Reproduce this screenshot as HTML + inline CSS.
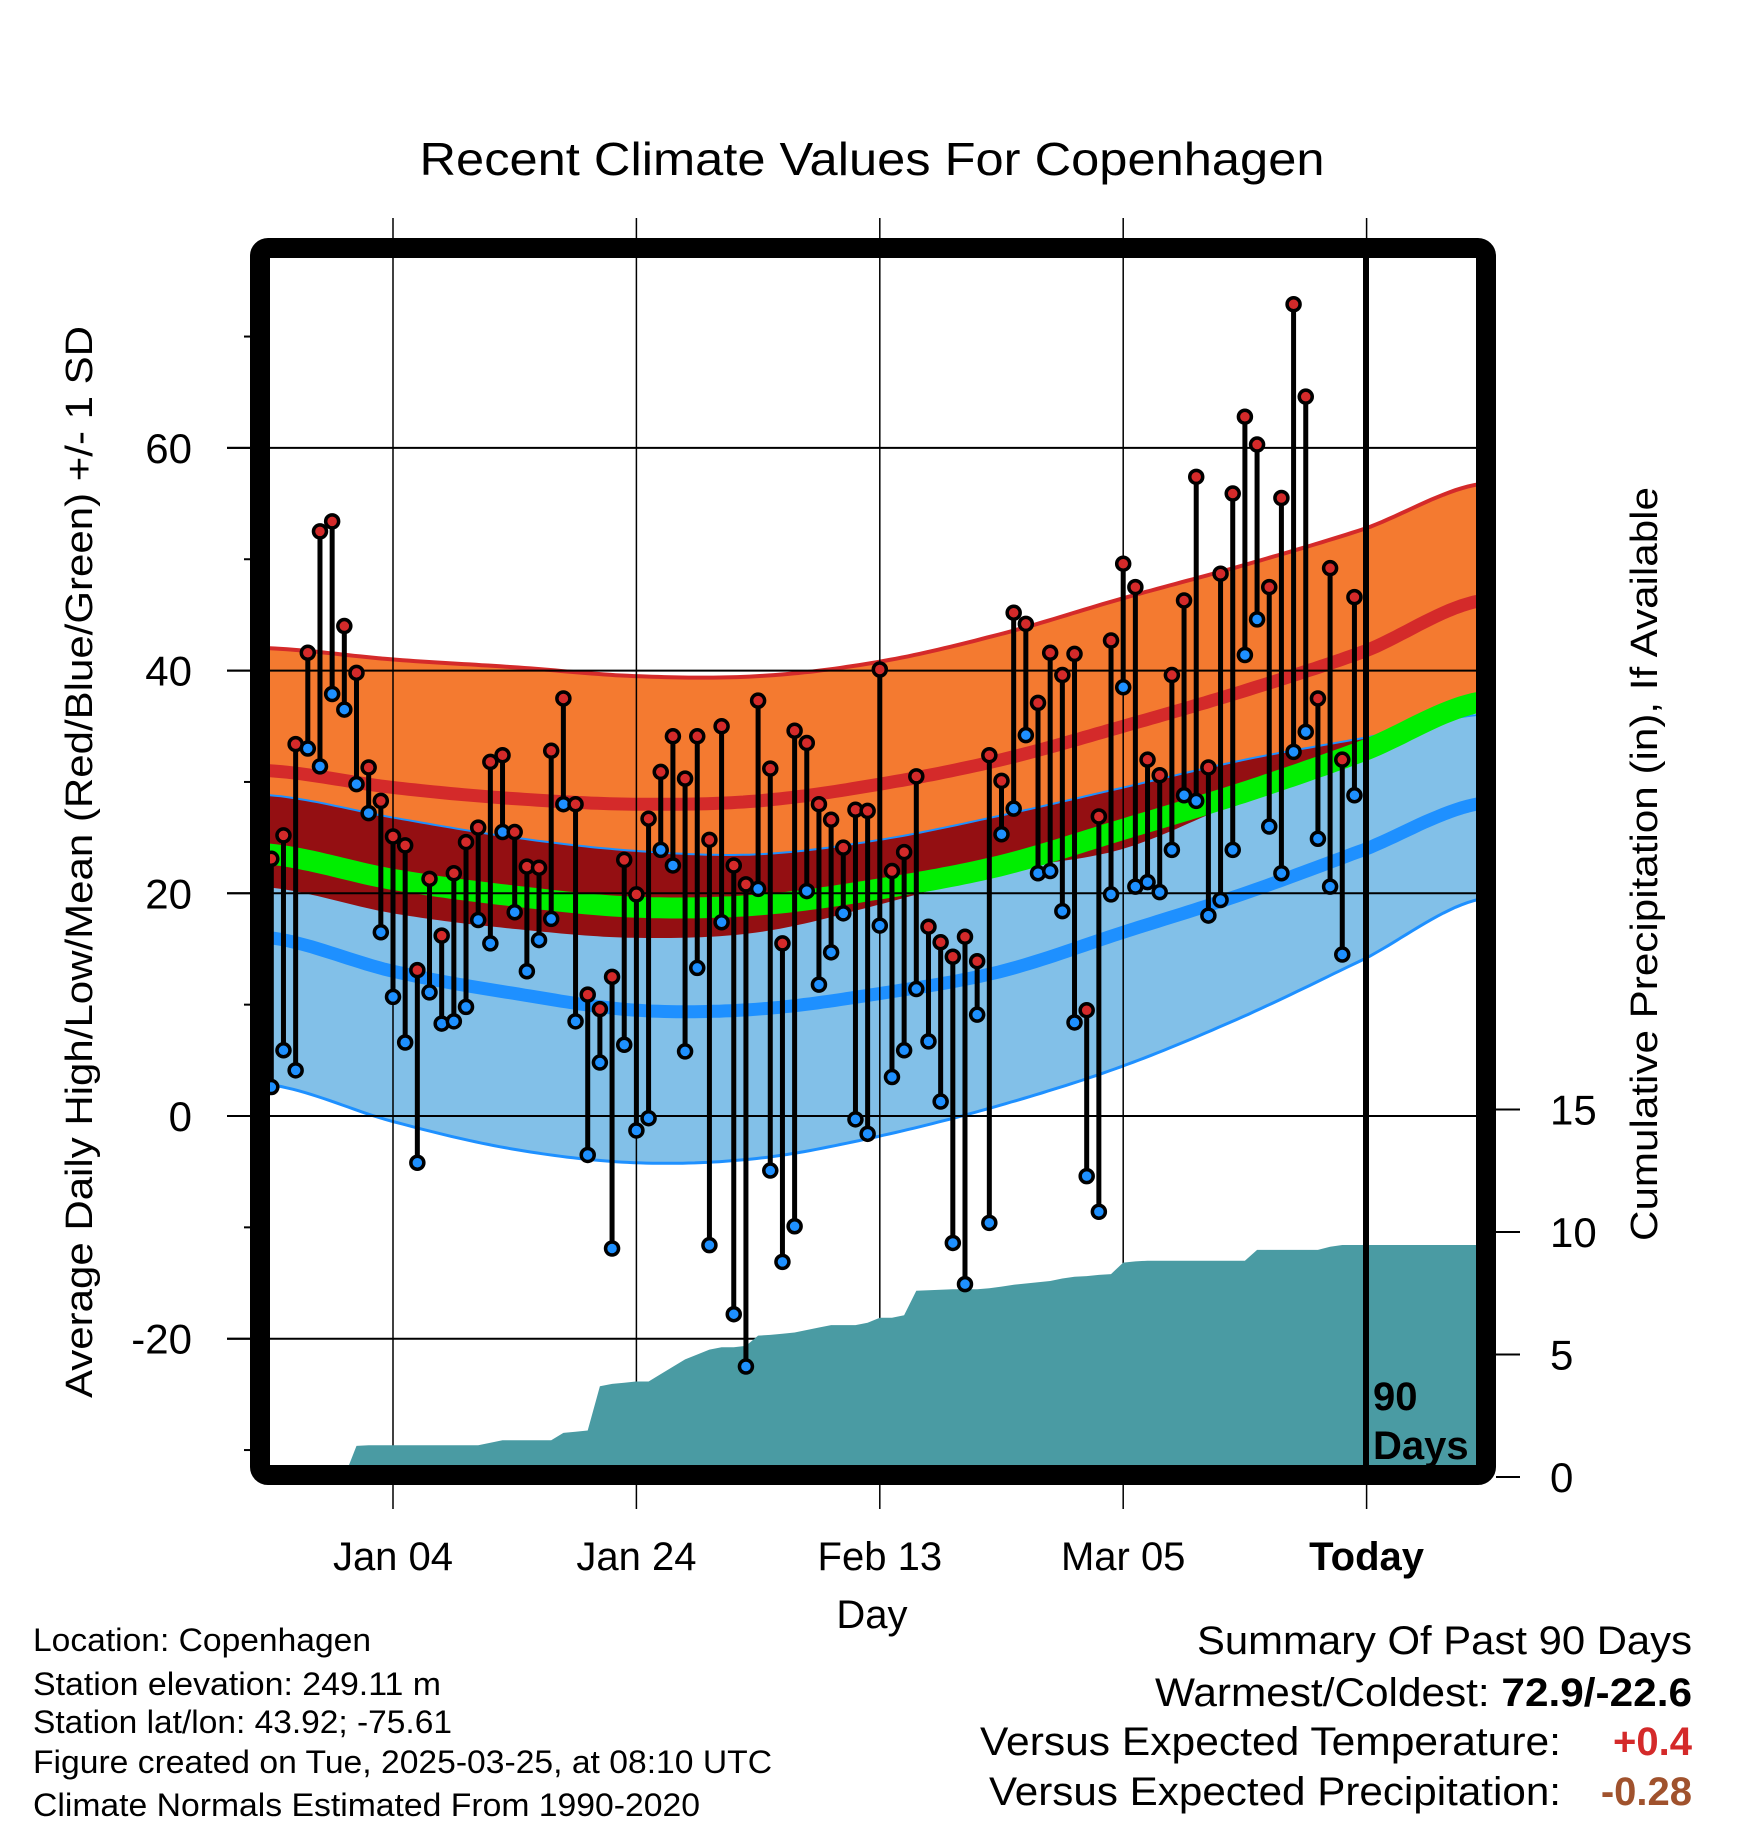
<!DOCTYPE html>
<html><head><meta charset="utf-8"><style>
html,body{margin:0;padding:0;background:#fff;}
svg{display:block;font-family:"Liberation Sans",Arial,sans-serif;}
</style></head><body>
<svg id="chart" width="1748" height="1828" viewBox="0 0 1748 1828" xmlns="http://www.w3.org/2000/svg">
<defs><clipPath id="plotclip"><rect x="270" y="258" width="1206" height="1210"/></clipPath></defs>
<rect x="0" y="0" width="1748" height="1828" fill="#fff"/>
<text x="872" y="175" font-size="46" text-anchor="middle" textLength="905" lengthAdjust="spacingAndGlyphs">Recent Climate Values For Copenhagen</text>
<g id="bands" clip-path="url(#plotclip)"></g>
<g id="grid"></g>
<g id="precip" clip-path="url(#plotclip)"></g>
<g id="marks" clip-path="url(#plotclip)"></g>
<g id="axes"></g>
<line x1="1366" y1="240" x2="1366" y2="1470" stroke="#000" stroke-width="6"/>
<text x="1373" y="1410" font-size="40" font-weight="bold">90</text>
<text x="1373" y="1459" font-size="40" font-weight="bold">Days</text>
<rect x="260" y="248" width="1226" height="1227" rx="8" fill="none" stroke="#000" stroke-width="20"/>
<text transform="translate(92,862) rotate(-90)" font-size="38" text-anchor="middle" textLength="1072" lengthAdjust="spacingAndGlyphs">Average Daily High/Low/Mean (Red/Blue/Green) +/- 1 SD</text>
<text transform="translate(1657,864) rotate(-90)" font-size="38" text-anchor="middle" textLength="754" lengthAdjust="spacingAndGlyphs">Cumulative Precipitation (in), If Available</text>
<text x="872" y="1628" font-size="40" text-anchor="middle">Day</text>
<g font-size="32">
<text x="33" y="1651" textLength="338" lengthAdjust="spacingAndGlyphs">Location: Copenhagen</text>
<text x="33" y="1695" textLength="408" lengthAdjust="spacingAndGlyphs">Station elevation: 249.11 m</text>
<text x="33" y="1733" textLength="419" lengthAdjust="spacingAndGlyphs">Station lat/lon: 43.92; -75.61</text>
<text x="33" y="1773" textLength="739" lengthAdjust="spacingAndGlyphs">Figure created on Tue, 2025-03-25, at 08:10 UTC</text>
<text x="33" y="1816" textLength="667" lengthAdjust="spacingAndGlyphs">Climate Normals Estimated From 1990-2020</text>
</g>
<g font-size="40">
<text x="1197" y="1654" textLength="495" lengthAdjust="spacingAndGlyphs">Summary Of Past 90 Days</text>
<text x="1155" y="1706" textLength="537" lengthAdjust="spacingAndGlyphs">Warmest/Coldest: <tspan font-weight="bold">72.9/-22.6</tspan></text>
<text x="980" y="1755" textLength="581" lengthAdjust="spacingAndGlyphs">Versus Expected Temperature:</text>
<text x="1692" y="1755" text-anchor="end" font-weight="bold" fill="#d42a2a">+0.4</text>
<text x="989" y="1805" textLength="572" lengthAdjust="spacingAndGlyphs">Versus Expected Precipitation:</text>
<text x="1692" y="1805" text-anchor="end" font-weight="bold" fill="#a0522d">-0.28</text>
</g>
</svg>
<script>
// ---- data ----
const highs = [23.1,25.2,33.4,41.6,52.5,53.4,44.0,39.8,31.3,28.3,25.1,24.3,13.1,21.3,16.2,21.8,24.6,25.9,31.8,32.4,25.5,22.4,22.3,32.8,37.5,28.0,10.9,9.6,12.5,23.0,19.9,26.7,30.9,34.1,30.3,34.1,24.8,35.0,22.5,20.8,37.3,31.2,15.5,34.6,33.5,28.0,26.6,24.1,27.5,27.4,40.1,22.0,23.7,30.5,17.0,15.6,14.3,16.1,13.9,32.4,30.1,45.2,44.2,37.1,41.6,39.6,41.5,9.5,26.9,42.7,49.6,47.5,32.0,30.6,39.6,46.3,57.4,31.3,48.7,55.9,62.8,60.3,47.5,55.5,72.9,64.6,37.5,49.2,32.0,46.6];
const lows = [2.6,5.9,4.1,33.0,31.4,37.9,36.5,29.8,27.2,16.5,10.7,6.6,-4.2,11.1,8.3,8.5,9.8,17.6,15.5,25.5,18.3,13.0,15.8,17.7,28.0,8.5,-3.5,4.8,-11.9,6.4,-1.3,-0.2,23.9,22.5,5.8,13.3,-11.6,17.4,-17.8,-22.5,20.4,-4.9,-13.1,-9.9,20.2,11.8,14.7,18.2,-0.3,-1.6,17.1,3.5,5.9,11.4,6.7,1.3,-11.4,-15.1,9.1,-9.6,25.3,27.6,34.2,21.8,22.0,18.4,8.4,-5.4,-8.6,19.9,38.5,20.6,21.0,20.1,23.9,28.8,28.3,18.0,19.4,23.9,41.4,44.6,26.0,21.8,32.7,34.5,24.9,20.6,14.5,28.8];
const precip = [0,0,0,0,0,0,0,1.27,1.3,1.3,1.3,1.3,1.3,1.3,1.3,1.3,1.3,1.3,1.4,1.5,1.5,1.5,1.5,1.5,1.8,1.85,1.9,3.7,3.8,3.85,3.9,3.9,4.2,4.5,4.8,5.0,5.2,5.3,5.3,5.35,5.77,5.8,5.85,5.9,6.0,6.1,6.2,6.2,6.2,6.3,6.5,6.5,6.6,7.6,7.62,7.64,7.66,7.66,7.66,7.7,7.77,7.85,7.9,7.95,8.0,8.1,8.17,8.2,8.25,8.28,8.75,8.8,8.83,8.83,8.83,8.83,8.83,8.83,8.83,8.83,8.83,9.27,9.27,9.27,9.27,9.27,9.27,9.4,9.47,9.47];
const firstDay = -10;
const normDays = [-10,0,10,20,30,40,50,60,70,80,89];
const highTop = [42.0,41.0,40.3,39.5,39.5,40.8,43.3,46.5,49.5,52.8,56.7];
const meanHigh = [31.0,29.5,28.5,28.0,28.3,29.8,32.0,35.0,38.2,41.8,46.2];
const highBot = [20.5,18.2,16.8,16.0,16.5,19.0,22.0,24.0,28.5,33.0,38.0];
const meanLow = [16.0,13.0,11.0,9.5,9.6,11.0,13.0,16.5,20.0,24.0,28.0];
const lowTop = [28.8,26.8,25.0,23.8,23.5,24.8,27.0,29.5,32.0,34.0,36.0];
const lowBot = [2.8,-0.5,-3.0,-4.2,-3.8,-1.8,1.0,4.5,9.0,14.2,19.4];
const yTicks = [-20,0,20,40,60];
const yMinor = [-30,-10,10,30,50,70];
const pTicks = [0,5,10,15];
const xTickDays = [0,20,40,60,80];
const xTickLabels = ['Jan 04','Jan 24','Feb 13','Mar 05','Today'];

// ---- scales ----
const X = d => 393 + 12.17*d;
const Y = v => 1116 - 11.135*v;
const P = v => 1477 - 24.5*v;
const NS = 'http://www.w3.org/2000/svg';
function mk(tag, attrs, parent){const e=document.createElementNS(NS,tag);for(const k in attrs)e.setAttribute(k,attrs[k]);parent.appendChild(e);return e;}
function interp(arr, d){
  let i=0; while(i<normDays.length-2 && d>normDays[i+1]) i++;
  const t=(d-normDays[i])/(normDays[i+1]-normDays[i]);
  const p0=arr[Math.max(i-1,0)],p1=arr[i],p2=arr[i+1],p3=arr[Math.min(i+2,arr.length-1)];
  const t2=t*t,t3=t2*t;
  return 0.5*((2*p1)+(-p0+p2)*t+(2*p0-5*p1+4*p2-p3)*t2+(-p0+3*p1-3*p2+p3)*t3);
}
const ds=[]; for(let d=-10.2; d<=89.3; d+=0.5) ds.push(d);
const hBot = d => interp(highBot,d);
function band(fTop,fBot){let s='';ds.forEach((d,i)=>{s+=(i?'L':'M')+X(d).toFixed(1)+','+Y(fTop(d)).toFixed(1);});
  for(let i=ds.length-1;i>=0;i--){s+='L'+X(ds[i]).toFixed(1)+','+Y(fBot(ds[i])).toFixed(1);} return s+'Z';}
function line(f){let s='';ds.forEach((d,i)=>{s+=(i?'L':'M')+X(d).toFixed(1)+','+Y(f(d)).toFixed(1);});return s;}

const bands=document.getElementById('bands');
let e;
e=mk('path',{d:band(d=>interp(highTop,d),hBot),fill:'#f47a30'},bands);


e=mk('path',{d:band(d=>interp(lowTop,d),d=>interp(lowBot,d)),fill:'#82c0e8'},bands);


e=mk('path',{d:band(d=>Math.min(interp(lowTop,d),interp(highTop,d)),d=>Math.min(interp(lowTop,d),Math.max(hBot(d),interp(lowBot,d)))),fill:'#940f12'},bands);


e=mk('path',{d:line(d=>interp(highTop,d)),fill:'none',stroke:'#d42a2a','stroke-width':4},bands);


e=mk('path',{d:line(d=>interp(lowTop,d)),fill:'none',stroke:'#1e90ff','stroke-width':2},bands);


e=mk('path',{d:line(d=>interp(lowBot,d)),fill:'none',stroke:'#1e90ff','stroke-width':3},bands);


e=mk('path',{d:line(d=>interp(meanHigh,d)),fill:'none',stroke:'#d42a2a','stroke-width':13},bands);


e=mk('path',{d:line(d=>interp(meanLow,d)),fill:'none',stroke:'#1e90ff','stroke-width':13},bands);


e=mk('path',{d:line(d=>(interp(meanHigh,d)+interp(meanLow,d))/2),fill:'none',stroke:'#00ee00','stroke-width':21},bands);



// grid
const grid=document.getElementById('grid');
yTicks.forEach(v=>{e=mk('line',{x1:227,x2:1476,y1:Y(v),y2:Y(v),stroke:'#000','stroke-width':2},grid);

});
xTickDays.forEach(d=>{e=mk('line',{x1:X(d),x2:X(d),y1:218,y2:1509,stroke:'#000','stroke-width':1.5},grid);

});

// precip
const pg=document.getElementById('precip');
let ps='M'+X(firstDay)+','+P(0);
precip.forEach((v,i)=>{ps+='L'+X(firstDay+i).toFixed(1)+','+P(v).toFixed(1);});
ps+='L1480,'+P(precip[precip.length-1]).toFixed(1)+'L1480,'+P(0)+'Z';
e=mk('path',{d:ps,fill:'#4a9ba3'},pg);



// marks
const mg=document.getElementById('marks');
highs.forEach((h,i)=>{
  const x=X(firstDay+i), l=lows[i];
  e=mk('line',{x1:x,x2:x,y1:Y(h),y2:Y(l),stroke:'#000','stroke-width':5},mg);
  
  
  e=mk('circle',{cx:x,cy:Y(h),r:6.5,fill:'#d42a2a',stroke:'#000','stroke-width':3.5},mg);
  
  
  e=mk('circle',{cx:x,cy:Y(l),r:6.5,fill:'#1e90ff',stroke:'#000','stroke-width':3.5},mg);
  
  
});

// axes
const ax=document.getElementById('axes');
yTicks.forEach(v=>{
  e=mk('line',{x1:227,x2:254,y1:Y(v),y2:Y(v),stroke:'#000','stroke-width':2},ax);
  
  
  e=mk('text',{x:192,y:Y(v)+15,'font-size':42,'text-anchor':'end'},ax);
  e.textContent=v;
  
  
});
yMinor.forEach(v=>{
  e=mk('line',{x1:244,x2:254,y1:Y(v),y2:Y(v),stroke:'#000','stroke-width':2},ax);
  
  
});
pTicks.forEach(v=>{
  e=mk('line',{x1:1496,x2:1520,y1:P(v),y2:P(v),stroke:'#000','stroke-width':2},ax);
  
  
  e=mk('text',{x:1550,y:P(v)+15,'font-size':42},ax);
  e.textContent=v;
  
  
});
xTickDays.forEach((d,i)=>{
  e=mk('text',{x:X(d),y:1570,'font-size':40,'text-anchor':'middle'},ax);
  if(xTickLabels[i]==='Today') e.setAttribute('font-weight','bold');
  e.textContent=xTickLabels[i];
  
  
});
</script>
</body></html>
